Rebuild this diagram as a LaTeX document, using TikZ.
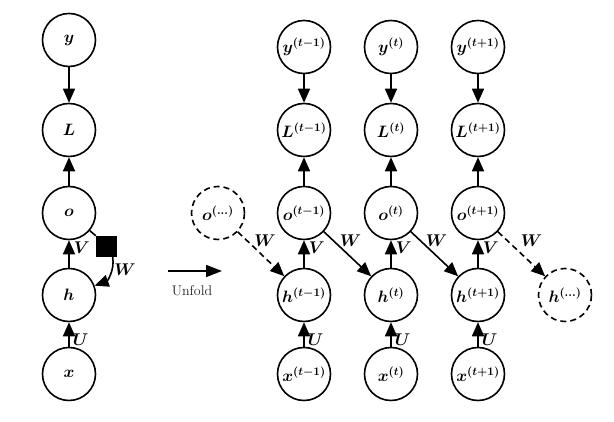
\RequirePackage{fix-cm}
\documentclass[tikz,border=0pt]{standalone}
\usepackage{amsmath,bm}
\usetikzlibrary{arrows.meta}
\tikzset{
 nd/.style={circle, draw, line width=1.6pt, minimum size=53pt, inner sep=0pt, font=\fontsize{16.5}{19}\selectfont},
 dnd/.style={nd, dash pattern=on 6pt off 4pt},
 arr/.style={line width=1.6pt, -{Triangle[length=14pt,width=12pt]}},
 darr/.style={arr, dash pattern=on 6pt off 4pt},
 lbl/.style={font=\fontsize{17}{20}\selectfont, inner sep=1pt},
 plain/.style={line width=1.6pt},
}
\begin{document}
\begin{tikzpicture}[x=1pt,y=1pt]
\useasboundingbox (0,0) rectangle (614,422);
% left folded graph
\node[nd] (y) at (69,382) {$\bm{y}$};
\node[nd] (L) at (69,292) {$\bm{L}$};
\node[nd] (o) at (69,209) {$\bm{o}$};
\node[nd] (h) at (69,127) {$\bm{h}$};
\node[nd] (x) at (69,48) {$\bm{x}$};
\node[fill, minimum size=21pt, inner sep=0pt] (sq) at (106.5,175.5) {};
\draw[arr] (y) -- (L);
\draw[arr] (o) -- (L);
\draw[arr] (h) -- node[lbl, pos=0.72, right=3pt]{$\bm{V}$} (o);
\draw[arr] (x) -- node[lbl, pos=0.3, right=2pt]{$\bm{U}$} (h);
\draw[plain] (o) -- (sq.north west);
\draw[arr] (sq.-60) to[out=-80,in=20] (h);
\node[lbl] (wl) at (125,152) {$\bm{W}$};
% unfold
\coordinate (u1) at (168,151);
\coordinate (u2) at (222,151);
\draw[line width=1.6pt, -{Triangle[length=16pt,width=12pt]}] (u1) -- (u2);
\node[font=\fontsize{14}{17}\selectfont, text=black!85] (unf) at (192,131) {Unfold};
% unfolded graph
\node[dnd] (od) at (218,209) {$\bm{o^{(\ldots)}}$};
\node[dnd] (hd) at (565,127) {$\bm{h^{(\ldots)}}$};
\node[nd] (y1) at (304,375) {$\bm{y^{(t-1)}}$};
\node[nd] (y2) at (391,375) {$\bm{y^{(t)}}$};
\node[nd] (y3) at (478,375) {$\bm{y^{(t+1)}}$};
\node[nd] (L1) at (304,292) {$\bm{L^{(t-1)}}$};
\node[nd] (L2) at (391,292) {$\bm{L^{(t)}}$};
\node[nd] (L3) at (478,292) {$\bm{L^{(t+1)}}$};
\node[nd] (o1) at (304,209) {$\bm{o^{(t-1)}}$};
\node[nd] (o2) at (391,209) {$\bm{o^{(t)}}$};
\node[nd] (o3) at (478,209) {$\bm{o^{(t+1)}}$};
\node[nd] (h1) at (304,127) {$\bm{h^{(t-1)}}$};
\node[nd] (h2) at (391,127) {$\bm{h^{(t)}}$};
\node[nd] (h3) at (478,127) {$\bm{h^{(t+1)}}$};
\node[nd] (x1) at (304,48) {$\bm{x^{(t-1)}}$};
\node[nd] (x2) at (391,48) {$\bm{x^{(t)}}$};
\node[nd] (x3) at (478,48) {$\bm{x^{(t+1)}}$};
\foreach \i in {1,2,3}{
  \draw[arr] (y\i) -- (L\i);
  \draw[arr] (o\i) -- (L\i);
  \draw[arr] (h\i) -- node[lbl, pos=0.72, right=3pt]{$\bm{V}$} (o\i);
  \draw[arr] (x\i) -- node[lbl, pos=0.3, right=2pt]{$\bm{U}$} (h\i);
}
\draw[darr] (od) -- node[lbl, pos=0.5, above=6pt, xshift=4pt]{$\bm{W}$} (h1);
\draw[arr] (o1) -- node[lbl, pos=0.5, above=6pt, xshift=3pt]{$\bm{W}$} (h2);
\draw[arr] (o2) -- node[lbl, pos=0.5, above=6pt, xshift=2pt]{$\bm{W}$} (h3);
\draw[darr] (o3) -- node[lbl, pos=0.5, above=6pt, xshift=10pt]{$\bm{W}$} (hd);
\end{tikzpicture}
\end{document}
